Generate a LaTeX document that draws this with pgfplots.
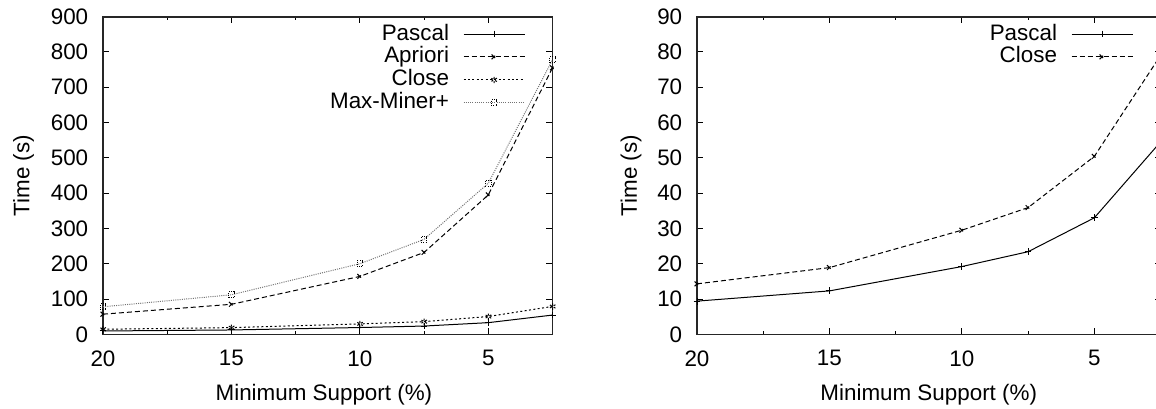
\documentclass[border=0pt]{standalone}
\usepackage{fontspec}
\setmainfont{Liberation Sans}
\usepackage{pgfplots}
\pgfplotsset{compat=1.18}

\pgfplotsset{
  gp/.style={
    scale only axis,
    height=158.8pt,
    clip=false,
    x dir=reverse,
    xmin=2.5, xmax=20,
    xtick={20,15,10,5},
    minor xtick={17.5,12.5,7.5},
    ymin=0,
    tick align=inside,
    major tick length=3pt,
    minor tick length=1.5pt,
    axis line style={line width=0.8pt, black!85},
    every tick/.style={black, line width=0.5pt},
    /pgf/number format/assume math mode=true,
    xticklabel style={anchor=north, inner sep=0pt, yshift=-7.85pt},
    yticklabel style={anchor=east, inner sep=0pt, xshift=-7.2pt},
    xlabel={Minimum Support (\%)},
    ylabel={Time (s)},
    xlabel style={at={(axis description cs:0.5,0)}, anchor=base, yshift=-32.85pt, inner sep=0pt},
    legend plot pos=right,
    legend style={at={(1,1)}, anchor=north east, xshift=-13.75pt, yshift=-3.15pt,
      draw=none, fill=none, inner sep=0pt, outer sep=0pt, row sep=0.45pt, column sep=7pt,
      nodes={anchor=east, inner sep=0pt, text height=8.5pt, text depth=2.5pt}},
    legend image code/.code={\draw[mark repeat=2, mark phase=2, #1] plot coordinates {(0pt,0pt) (15.25pt,0pt) (30.5pt,0pt)};},
    every axis plot/.append style={line width=0.5pt, mark size=1.7pt, black},
  },
  every mark/.append style={solid},
}

\pgfplotstableread{
x     pascal close apriori maxminer
20    9.4    14.3  57     78
15    12.3   18.9  85     112
10    19.2   29.5  164    200
7.5   23.4   35.9  232    269
5     33.0   50.4  395    428
2.5   54.5   79.0  755    778
}\data

\begin{document}
\begin{tikzpicture}[font=\fontsize{11.2}{13.4}\selectfont]
\useasboundingbox (0,0) rectangle (578pt,204pt);

\begin{axis}[gp,
  at={(51.5pt,36.85pt)}, anchor=south west,
  width=224.75pt,
  ymax=900, ytick={0,100,...,900},
  xlabel style={xshift=-1.9pt},
  ylabel style={at={(axis description cs:-0.1766,0.5)}, anchor=center},
]
\addplot[solid, mark=+] table[x=x,y=pascal] {\data};
\addlegendentry{Pascal}
\addplot[dash pattern=on 2.5pt off 1.5pt, mark=x] table[x=x,y=apriori] {\data};
\addlegendentry{Apriori}
\addplot[dash pattern=on 1pt off 1.2pt, mark=asterisk] table[x=x,y=close] {\data};
\addlegendentry{Close}
\addplot[black!55, dash pattern=on 0.5pt off 0.6pt, mark=square, mark size=1.4pt, mark options={black}] table[x=x,y=maxminer] {\data};
\addlegendentry{Max-Miner+}
\end{axis}

\begin{axis}[gp,
  at={(348.5pt,36.85pt)}, anchor=south west,
  width=231.75pt,
  ymax=90, ytick={0,10,...,90},
  ylabel style={at={(axis description cs:-0.1424,0.5)}, anchor=center},
]
\addplot[solid, mark=+] table[x=x,y=pascal] {\data};
\addlegendentry{Pascal}
\addplot[dash pattern=on 2.5pt off 1.5pt, mark=x] table[x=x,y=close] {\data};
\addlegendentry{Close}
\end{axis}
\end{tikzpicture}
\end{document}
